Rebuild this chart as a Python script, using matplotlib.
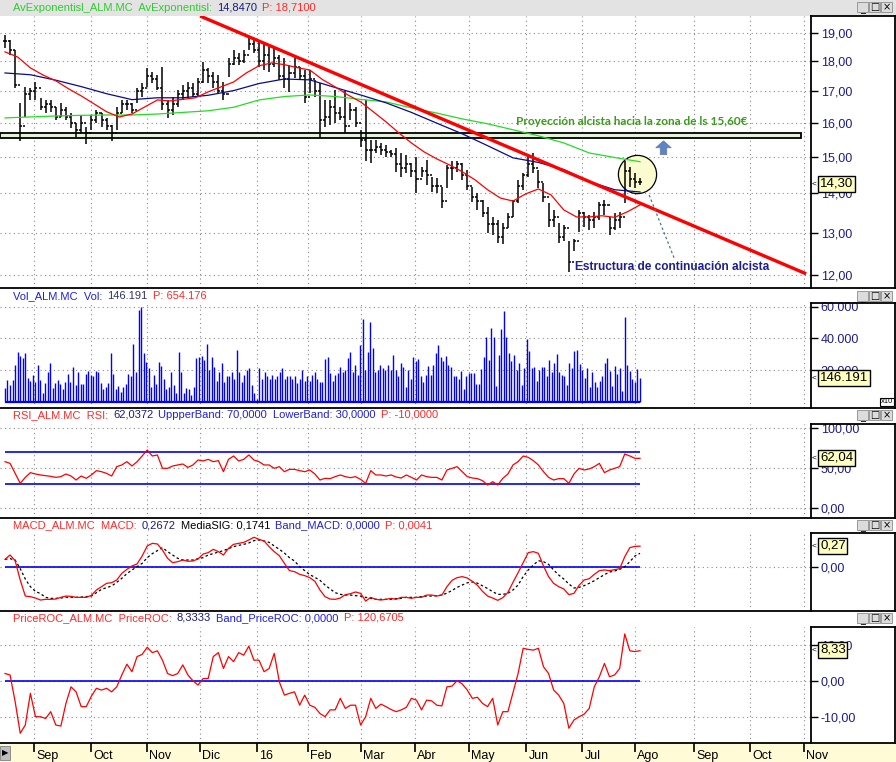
import numpy as np
import matplotlib
matplotlib.use('Agg')
import matplotlib.pyplot as plt
from matplotlib.lines import Line2D
from matplotlib.patches import Rectangle
from matplotlib.path import Path
from matplotlib.ticker import FixedLocator, NullLocator

plt.rcParams['font.family'] = ['Liberation Sans', 'DejaVu Sans']

# ---- data (one unit on x = two trading sessions, Aug-2015 .. Aug-2016) ----
month_labels = ['Sep', 'Oct', 'Nov', 'Dic', '16', 'Feb', 'Mar', 'Abr', 'May',
                'Jun', 'Jul', 'Ago', 'Sep', 'Oct', 'Nov']
month_pos = [5.7, 16.9, 27.9, 38.4, 49.6, 59.6, 70.1, 80.7, 91.3,
             102.6, 113.6, 124.0, 135.6, 146.7, 157.3]

high = [18.92, 18.75, 18.38, 16.63, 17.14, 17.11, 17.30, 16.79, 16.72, 16.72,
        16.50, 16.63, 16.50, 16.31, 16.00, 16.25, 15.89, 16.25, 16.41, 16.31,
        16.16, 15.95, 16.50, 16.72, 16.72, 16.63, 17.11, 17.27, 17.77, 17.63,
        17.53, 17.80, 16.72, 16.82, 17.04, 17.20, 17.30, 17.27, 17.43, 17.97,
        17.77, 17.63, 17.53, 17.30, 18.10, 18.38, 18.28, 18.38, 18.85, 18.81,
        18.67, 18.63, 18.49, 18.49, 18.21, 18.10, 17.87, 18.10, 17.80, 17.70,
        17.70, 17.37, 17.27, 16.72, 16.72, 17.04, 16.50, 17.04, 16.63, 16.50,
        15.80, 16.72, 15.50, 15.50, 15.41, 15.35, 15.21, 15.27, 15.12, 15.06,
        14.84, 15.01, 14.73, 14.93, 14.45, 14.42, 14.18, 14.78, 14.90, 14.90,
        14.84, 14.64, 14.18, 14.02, 13.83, 13.65, 13.39, 13.32, 13.24, 13.50,
        13.83, 14.37, 14.56, 15.09, 15.12, 14.64, 14.29, 13.75, 13.57, 13.24,
        13.19, 12.80, 12.85, 13.57, 13.52, 13.45, 13.52, 13.78, 13.83, 13.39,
        13.50, 13.52, 14.90, 14.73, 14.56, 14.42]
low = [18.45, 18.20, 17.11, 15.47, 16.19, 16.72, 16.72, 16.41, 16.31, 16.35,
       16.10, 16.19, 16.10, 15.86, 15.59, 15.71, 15.37, 15.80, 16.00, 15.89,
       15.80, 15.47, 15.80, 16.31, 16.41, 16.31, 16.63, 16.82, 17.14, 17.27,
       17.04, 16.41, 16.16, 16.25, 16.50, 16.72, 16.79, 16.82, 16.82, 17.27,
       17.27, 17.11, 16.95, 16.72, 17.47, 17.87, 17.87, 17.94, 18.38, 18.28,
       17.80, 17.70, 17.63, 17.80, 17.37, 17.11, 16.98, 17.43, 17.37, 16.63,
       16.95, 16.82, 15.56, 15.89, 15.95, 16.00, 16.10, 15.71, 16.10, 15.89,
       15.30, 14.90, 14.84, 15.12, 15.06, 15.01, 15.01, 14.59, 14.45, 14.56,
       14.45, 14.02, 14.45, 14.24, 14.04, 14.02, 13.62, 14.15, 14.37, 14.59,
       14.37, 14.10, 13.78, 13.57, 13.39, 13.00, 12.94, 12.75, 12.72, 13.12,
       13.39, 13.75, 14.10, 14.45, 14.56, 14.15, 13.78, 13.14, 13.14, 12.75,
       12.80, 12.06, 12.55, 13.02, 13.14, 13.07, 13.12, 13.32, 13.45, 12.94,
       13.07, 13.12, 13.75, 14.18, 14.15, 14.24]
close = [18.70, 18.40, 17.20, 15.90, 16.90, 17.00, 17.10, 16.50, 16.60, 16.50,
         16.20, 16.40, 16.20, 16.00, 15.80, 16.00, 15.70, 16.10, 16.30, 16.10,
         15.90, 15.70, 16.30, 16.60, 16.60, 16.40, 17.00, 17.10, 17.50, 17.40,
         17.10, 16.60, 16.40, 16.60, 16.90, 17.00, 17.10, 16.90, 17.30, 17.70,
         17.50, 17.30, 17.00, 16.90, 17.90, 18.10, 18.00, 18.20, 18.60, 18.40,
         18.00, 18.20, 17.90, 18.10, 17.50, 17.40, 17.60, 17.80, 17.50, 16.80,
         17.40, 17.00, 16.10, 16.20, 16.50, 16.30, 16.20, 15.90, 16.40, 16.00,
         15.50, 15.20, 15.20, 15.30, 15.20, 15.15, 15.10, 14.80, 14.70, 14.80,
         14.60, 14.40, 14.60, 14.50, 14.20, 14.20, 13.80, 14.70, 14.70, 14.80,
         14.50, 14.20, 13.90, 13.80, 13.50, 13.20, 13.20, 12.90, 13.10, 13.40,
         13.80, 14.20, 14.50, 14.80, 14.70, 14.30, 13.90, 13.30, 13.40, 12.90,
         13.10, 12.30, 12.80, 13.50, 13.40, 13.30, 13.40, 13.70, 13.70, 13.10,
         13.30, 13.40, 14.60, 14.40, 14.30, 14.30]

# exponential averages (red every 2.5 units, blue/green every 5)
ema_red = [18.32, 18.14, 17.77, 17.53, 17.34, 17.08, 16.85, 16.60, 16.35, 16.19,
           16.28, 16.50, 16.72, 16.69, 16.74, 16.79, 16.98, 17.14, 17.30, 17.60,
           17.84, 17.94, 17.88, 17.78, 17.70, 17.38, 17.14, 16.88, 16.66, 16.35,
           16.04, 15.71, 15.41, 15.15, 14.95, 14.78, 14.59, 14.37, 14.10, 13.88,
           13.80, 13.99, 14.12, 13.96, 13.57, 13.39, 13.39, 13.42, 13.38, 13.52,
           13.70]
ema_blue = [17.60, 17.54, 17.36, 17.15, 16.92, 16.73, 16.79, 16.79, 16.87, 17.02,
            17.25, 17.40, 17.37, 17.12, 16.88, 16.63, 16.33, 16.00, 15.68, 15.33,
            14.98, 14.85, 14.65, 14.32, 14.10, 14.04]
ema_green = [16.16, 16.19, 16.22, 16.24, 16.25, 16.25, 16.28, 16.33, 16.38, 16.49,
             16.72, 16.83, 16.88, 16.83, 16.74, 16.66, 16.47, 16.31, 16.13, 15.98,
             15.80, 15.62, 15.41, 15.12, 14.99, 14.87]

# daily volume (axis units, thousands)
volume = [8.6, 13.7, 10.5, 13.7, 23, 31.6, 29, 27.8, 30.8, 15,
          13, 16.8, 12.6, 23, 13.8, 5.4, 11.7, 18.9, 24.4, 8.6,
          11.7, 13.7, 11, 8, 12.6, 17.5, 12.6, 22, 10.5, 18.9,
          11, 11, 17.5, 19.5, 16.8, 16.3, 19.5, 18.9, 11.7, 8,
          9, 11.7, 30.8, 17.5, 8, 10, 6, 9.5, 11, 17.5,
          16.3, 36.6, 18.5, 58, 60.2, 30.5, 24.8, 21, 9, 16.8,
          11, 24.8, 22.5, 14.6, 8, 9, 18.9, 10.5, 5.3, 31.4,
          18.5, 5.3, 8.6, 7.9, 4, 9.5, 27.4, 28.5, 29, 26.5,
          36.6, 20, 28.5, 22, 13, 18.5, 24.4, 12.6, 16, 16.3,
          18.5, 14.6, 32.6, 18.5, 12.6, 16.8, 20, 21, 10.5, 5.3,
          1.7, 21, 14, 18.5, 16, 14.6, 16.8, 14.6, 16.3, 18.5,
          21, 14.6, 16, 16.3, 14, 16, 11.7, 14.6, 20, 13,
          16.3, 13, 16.8, 18.5, 14.6, 12.6, 12.6, 27, 28.5, 17.8,
          13, 16.8, 17.8, 21.6, 18.9, 20, 27.8, 31.4, 18.5, 23,
          16.8, 35.8, 52.4, 20, 31.4, 50.5, 34, 18.5, 20, 23,
          21, 20, 23, 20, 29.4, 20, 16, 24.4, 22, 9.5,
          20, 14, 28.5, 26, 27.2, 16.3, 12.6, 16.8, 22.5, 16.8,
          23, 30.5, 36, 28.5, 25.4, 29, 23, 22,
          16.4, 16.4, 14.3, 19.4, 7.9, 16.4, 17.9, 17.9, 17.9, 10.9,
          10.9, 20.4, 28.5, 41.2, 26.3, 46.9, 41.2, 10.1, 29.5, 46,
          57.5, 41.2, 30.6, 25.7, 29.5, 20, 24.2, 10.5, 21.5, 39.7,
          32.1, 21.5, 22.1, 13, 20, 22.1, 22.1, 16.4, 26.3, 18.5,
          24.2, 30, 18.5, 16.8, 16.4, 10.5, 24.2, 21.5, 32.1, 32.7,
          23.8, 20, 15.1, 21.5, 9.4, 18.5, 12.2, 9.4, 13, 16.4,
          24.2, 27.8, 19.4, 10.1, 22.7, 17.3, 21.5, 6.7, 53.9, 23.2,
          19.4, 14.3, 12.2, 20.6, 14.7]

rsi = [57.9, 55.8, 43.3, 30.8, 38.3, 44.2, 42.5, 41.3, 40.4, 39.6,
       38.3, 39.2, 42.5, 40.0, 35.0, 40.0, 37.1, 41.3, 46.7, 45.4,
       43.3, 40.0, 51.7, 53.8, 57.9, 52.5, 57.9, 65.0, 72.5, 65.0,
       66.3, 49.6, 49.6, 52.5, 53.8, 55.0, 50.8, 53.8, 60.0, 58.8,
       60.8, 57.9, 59.2, 45.4, 60.8, 65.0, 58.8, 60.8, 66.3, 60.0,
       57.9, 53.8, 53.8, 49.6, 51.7, 45.4, 48.3, 48.3, 46.7, 45.4,
       47.5, 42.5, 35.0, 37.1, 36.7, 39.2, 41.3, 39.2, 37.9, 39.2,
       35.8, 30.8, 46.7, 41.3, 41.3, 40.0, 41.3, 38.8, 37.5, 41.3,
       38.3, 35.0, 41.3, 39.2, 38.3, 38.3, 35.0, 47.5, 49.6, 51.7,
       45.4, 39.2, 37.5, 36.7, 34.2, 28.8, 32.9, 28.8, 37.1, 42.5,
       53.8, 57.9, 65.0, 63.3, 59.2, 53.8, 45.4, 38.3, 35.0, 36.7,
       36.7, 30.8, 42.5, 49.6, 47.5, 48.8, 51.7, 55.8, 44.2, 47.5,
       49.6, 51.7, 67.5, 65.0, 62.1, 62.04]
rsi_bands = [30, 70]

macd = [0.096, 0.152, 0.078, -0.174, -0.383, -0.391, -0.409, -0.435, -0.426, -0.426,
        -0.422, -0.400, -0.383, -0.387, -0.400, -0.400, -0.400, -0.374, -0.304, -0.261,
        -0.217, -0.209, -0.174, -0.087, -0.035, 0.009, 0.035, 0.139, 0.270, 0.304,
        0.296, 0.217, 0.109, 0.052, 0.065, 0.087, 0.070, 0.074, 0.100, 0.165,
        0.183, 0.226, 0.196, 0.152, 0.239, 0.291, 0.304, 0.317, 0.348, 0.383,
        0.357, 0.335, 0.261, 0.196, 0.143, 0.043, -0.052, -0.065, -0.100, -0.117,
        -0.143, -0.191, -0.304, -0.391, -0.422, -0.426, -0.409, -0.365, -0.352, -0.330,
        -0.348, -0.448, -0.400, -0.426, -0.435, -0.426, -0.413, -0.426, -0.400, -0.400,
        -0.413, -0.400, -0.400, -0.370, -0.370, -0.383, -0.370, -0.261, -0.178, -0.143,
        -0.130, -0.148, -0.191, -0.243, -0.322, -0.383, -0.409, -0.439, -0.404, -0.335,
        -0.204, -0.078, 0.052, 0.183, 0.196, 0.174, 0.009, -0.130, -0.217, -0.261,
        -0.291, -0.365, -0.348, -0.243, -0.174, -0.157, -0.100, -0.052, -0.043, -0.052,
        -0.039, -0.026, 0.130, 0.248, 0.265, 0.2672]
signal = [0.096, 0.104, 0.087, -0.026, -0.161, -0.261, -0.322, -0.352, -0.400, -0.413,
          -0.413, -0.409, -0.400, -0.400, -0.400, -0.396, -0.391, -0.383, -0.339, -0.296,
          -0.274, -0.252, -0.204, -0.152, -0.091, -0.043, 0.000, 0.043, 0.117, 0.170,
          0.209, 0.248, 0.196, 0.152, 0.109, 0.087, 0.087, 0.087, 0.104, 0.117,
          0.152, 0.170, 0.191, 0.209, 0.235, 0.261, 0.278, 0.291, 0.309, 0.339,
          0.348, 0.335, 0.317, 0.270, 0.226, 0.178, 0.117, 0.074, 0.000, -0.052,
          -0.104, -0.139, -0.178, -0.239, -0.291, -0.339, -0.361, -0.370, -0.370, -0.378,
          -0.383, -0.400, -0.413, -0.426, -0.426, -0.426, -0.426, -0.417, -0.413, -0.400,
          -0.400, -0.400, -0.391, -0.383, -0.383, -0.378, -0.370, -0.345, -0.310, -0.270,
          -0.240, -0.210, -0.200, -0.215, -0.250, -0.285, -0.326, -0.361, -0.361, -0.348,
          -0.304, -0.239, -0.130, -0.043, 0.022, 0.078, 0.065, 0.030, -0.043, -0.109,
          -0.161, -0.226, -0.278, -0.270, -0.248, -0.217, -0.183, -0.143, -0.104, -0.070,
          -0.057, -0.035, 0.000, 0.065, 0.139, 0.1741]

roc = [2.0, 1.6, -5.8, -14.6, -12.3, -3.5, -10.0, -10.0, -10.5, -8.6,
       -12.3, -12.6, -6.3, -1.7, -3.1, -7.2, -7.2, -4.3, -2.1, -2.6,
       -2.1, -3.1, -1.7, 1.6, 4.6, 2.5, 6.7, 7.3, 9.3, 7.8,
       8.3, 5.7, 2.0, 1.4, 2.0, 4.4, 1.6, 0.0, -1.2, 0.6,
       0.6, 6.7, 7.8, 3.4, 6.7, 5.3, 7.8, 7.1, 9.6, 5.7,
       5.7, 2.5, 3.4, 7.6, -0.3, -4.0, -3.5, -3.1, -6.8, -4.0,
       -6.8, -7.4, -9.1, -10.0, -8.1, -8.1, -4.9, -7.7, -6.8, -6.8,
       -12.3, -10.0, -4.9, -7.7, -6.5, -7.2, -8.0, -8.6, -8.1, -7.4,
       -4.9, -5.4, -8.1, -5.4, -5.6, -6.8, -7.0, -1.7, -1.5, 0.0,
       -0.9, -2.6, -4.9, -4.6, -6.3, -7.2, -4.9, -12.3, -8.6, -8.6,
       -3.3, 2.0, 9.0, 8.7, 8.5, 9.0, 3.9, 2.0, -2.6, -4.0,
       -6.3, -13.2, -10.9, -10.0, -9.3, -7.7, -1.7, 1.1, 4.8, 1.1,
       1.6, 3.4, 13.0, 8.3, 8.1, 8.33]

# drawn-on analysis
trend_x, trend_y = [38.4, 157.7], [19.61, 12.02]
zone_lo, zone_hi = 15.55, 15.70
zone_x = [-0.98, 156.7]
circle_x, circle_y = 124.4, 14.52
arrow_x, arrow_y = 129.5, 15.27
pointer_x, pointer_y = [126.8, 131.7], [13.96, 12.39]
note_up = 'Proyección alcista hacia la zona de ls 15,60€'
note_struct = 'Estructura de continuación alcista'

# ---- layout helpers (pixel coordinates of the 896x762 canvas) ----
W, H = 896, 762
XL = (-0.98, 158.66)


def fx(x):
    return x / W


def fy(y):
    return 1 - y / H


fig = plt.figure(figsize=(8.96, 7.62), dpi=100)
fig.patch.set_facecolor('white')


def panel(top, bottom, log=False):
    ax = fig.add_axes([0, fy(bottom), fx(811), (bottom - top) / H])
    if log:
        ax.set_yscale('log')
    ax.set_xlim(*XL)
    for s in ax.spines.values():
        s.set_visible(False)
    ax.set_xticks(month_pos)
    ax.tick_params(axis='x', length=0, labelbottom=False)
    ax.yaxis.tick_right()
    ax.tick_params(axis='y', direction='out', length=5, width=1, color='black',
                   labelsize=9, labelcolor='#1c1c8a', pad=2)
    ax.grid(True, color='#8a8a8a', linestyle=(0, (1, 3)), linewidth=0.8)
    ax.set_axisbelow(True)
    return ax


def fline(x0, y0, x1, y1, lw=1.3):
    fig.add_artist(Line2D([fx(x0), fx(x1)], [fy(y0), fy(y1)], color='black', lw=lw))


def header(y, parts):
    r = fig.canvas.get_renderer()
    x = 13
    for txt, col in parts:
        t = fig.text(fx(x), fy(y), txt, color=col, fontsize=8, ha='left', va='center')
        x += t.get_window_extent(r).width + 5


def buttons(y):
    for i, g in enumerate(['_', '□', '×']):
        x0 = 857 + 12 * i
        fig.add_artist(Rectangle((fx(x0), fy(y + 5)), 11 / W, 10 / H, fc='#dcdcdc',
                                 ec='#8c8c8c', lw=0.6, transform=fig.transFigure))
        fig.text(fx(x0 + 5.5), fy(y + (2 if g == '_' else 0)), g, fontsize=7,
                 ha='center', va='center', family=['DejaVu Sans'])


def value_box(y, txt):
    fig.text(fx(812), fy(y), '<', fontsize=6, ha='left', va='center')
    fig.text(fx(820), fy(y), txt, fontsize=9.5, ha='left', va='center', zorder=10,
             bbox=dict(boxstyle='square,pad=0.12', fc='#ffffc0', ec='black', lw=1))


def fmt(v, d=2):
    return f'{v:.{d}f}'.replace('.', ',')


# up-arrow marker
up_arrow = Path([(0, 1), (1, 0.1), (0.42, 0.1), (0.42, -0.8), (-0.42, -0.8),
                 (-0.42, 0.1), (-1, 0.1), (0, 1)])

# main header band
fig.add_artist(Rectangle((0, fy(16)), 1, 16 / H, fc='#e3e3e3', ec='none',
                         transform=fig.transFigure))

x = np.arange(len(close))

# ---- price panel ----
ax = panel(16, 288, log=True)
ax.set_ylim(11.70, 19.61)
price_ticks = [12, 13, 14, 15, 16, 17, 18, 19]
ax.yaxis.set_major_locator(FixedLocator(price_ticks))
ax.yaxis.set_minor_locator(NullLocator())
ax.set_yticklabels([fmt(v) for v in price_ticks])

ax.add_patch(Rectangle((zone_x[0], zone_lo), zone_x[1] - zone_x[0], zone_hi - zone_lo,
                       fc='#e4f2da', ec='black', lw=1.3, zorder=1.5))
ax.plot(circle_x, circle_y, 'o', ms=27.5, mfc='#fbfbd0', mec='black',
        mew=0.9, zorder=1.8)
opens = np.r_[close[0], close[:-1]]
ax.vlines(x, low, high, color='black', lw=1.1, zorder=2)
ax.hlines(close, x, x + 0.4, color='black', lw=1.1, zorder=2)
ax.hlines(opens, x - 0.4, x, color='black', lw=1.1, zorder=2)
ax.plot(np.arange(0, 125.1, 5), ema_green, color='#22dd22', lw=0.9, zorder=3)
ax.plot(np.arange(0, 125.1, 5), ema_blue, color='#0a0a8c', lw=0.9, zorder=3)
ax.plot(np.arange(0, 125.1, 2.5), ema_red, color='#ff0000', lw=0.9, zorder=3)
ax.plot(trend_x, trend_y, color='#ff0000', lw=2.4, solid_capstyle='butt', zorder=4)
ax.plot(pointer_x, pointer_y, color='#4f7a7a', lw=0.9, ls=(0, (2, 2)), zorder=5)
ax.plot(arrow_x, arrow_y, marker=up_arrow, ms=11, mfc='#5a86c8', mec='#6f7f99',
        mew=0.6, ls='none', zorder=5)
ax.text(123.4, 16.04, note_up, color='#3c9a1c', fontsize=8.5, fontweight='bold',
        ha='center', va='center', family=['Lato', 'DejaVu Sans'], zorder=6)
ax.text(131.3, 12.18, note_struct, color='#1f1f8f', fontsize=8.6, fontweight='bold',
        ha='center', va='center', zorder=6)

# ---- volume panel ----
axv = panel(303, 408)
axv.set_ylim(-4.1, 62.5)
vol_ticks = [20, 40, 60]
axv.set_yticks(vol_ticks)
axv.set_yticklabels([f'{v}.000' for v in vol_ticks])
axv.vlines(np.linspace(0, 125, len(volume)), 0, volume, color='#0000ff', lw=1)
axv.hlines(0, 0, 125, color='#0000ff', lw=1.6)

# ---- RSI panel ----
axr = panel(424, 518)
axr.set_ylim(-12.5, 105)
axr.set_yticks([0, 50, 100])
axr.set_yticklabels([fmt(v) for v in [0, 50, 100]])
axr.hlines(rsi_bands, 0, 125, color='#0000ff', lw=1.2)
axr.plot(x, rsi, color='#ff0000', lw=0.9)

# ---- MACD panel ----
axm = panel(533, 611)
axm.set_ylim(-0.578, 0.439)
axm.set_yticks([0])
axm.set_yticklabels([fmt(0)])
axm.hlines(0, 0, 125, color='#0000ff', lw=1.2)
axm.plot(x, signal, color='black', lw=0.9, ls=(0, (2, 2)))
axm.plot(x, macd, color='#ff0000', lw=0.9)

# ---- PriceROC panel ----
axc = panel(627, 743)
axc.set_ylim(-17.3, 14.92)
axc.set_yticks([-10, 0, 10])
axc.set_yticklabels([fmt(v) for v in [-10, 0, 10]])
axc.hlines(0, 0, 125, color='#0000ff', lw=1.2)
axc.plot(x, roc, color='#ff0000', lw=0.9)

# ---- time band ----
axt = fig.add_axes([0, 0, 1, 19 / H])
axt.set_facecolor('#fffbd6')
axt.set_xlim(XL[0], XL[0] + (XL[1] - XL[0]) * W / 811)
axt.set_ylim(0, 1)
for s in axt.spines.values():
    s.set_visible(False)
axt.set_xticks([])
axt.set_yticks([])
axt.vlines(month_pos, 0.52, 1, color='black', lw=1.2)
for p, lab in zip(month_pos, month_labels):
    axt.text(p + 0.45, 0.3, lab, fontsize=9, ha='left', va='center')
fig.add_artist(Rectangle((0, fy(760)), 10 / W, 14 / H, fc='#bdbdbd', ec='#808080',
                         lw=0.6, transform=fig.transFigure))
fig.text(fx(5), fy(753), '▶', fontsize=6, ha='center', va='center',
         family=['DejaVu Sans'])

# ---- frames ----
for y in [288, 408, 518, 611, 743]:
    fline(0, y, W, y)
for top, bottom in [(16, 288), (303, 408), (424, 518), (533, 611), (627, 743)]:
    fline(811, top, 895, top)
    fline(811, top, 811, bottom)
    fline(895, top, 895, bottom)

# ---- headers ----
green, navy, red, blue = '#2ecc2e', '#1a1a80', '#ff2a2a', '#2020e0'
header(8, [('AvExponentisl_ALM.MC  AvExponentisl:', green), ('14,8470', navy),
           ('P: 18,7100', red)])
header(296, [('Vol_ALM.MC  Vol:', blue), ('146.191', '#333366'), ('P: 654.176', red)])
header(415, [('RSI_ALM.MC  RSI:', red), ('62,0372', navy),
             ('UppperBand: 70,0000  LowerBand: 30,0000', blue), ('P: -10,0000', red)])
header(525, [('MACD_ALM.MC  MACD:', red), ('0,2672', navy), ('MediaSIG: 0,1741', 'black'),
             ('Band_MACD: 0,0000', blue), ('P: 0,0041', red)])
header(618, [('PriceROC_ALM.MC  PriceROC:', red), ('8,3333', navy),
             ('Band_PriceROC: 0,0000', blue), ('P: 120,6705', red)])
for y in [7, 296, 415, 525, 618]:
    buttons(y)

# ---- last values ----
value_box(184, '14,30')
value_box(378, '146.191')
value_box(458, '62,04')
value_box(546, '0,27')
value_box(650, '8,33')
fig.text(fx(881), fy(402), 'x10', fontsize=5.5, ha='left', va='center',
         bbox=dict(boxstyle='square,pad=0.1', fc='white', ec='black', lw=0.8))

fig.savefig('out.png', dpi=100)
